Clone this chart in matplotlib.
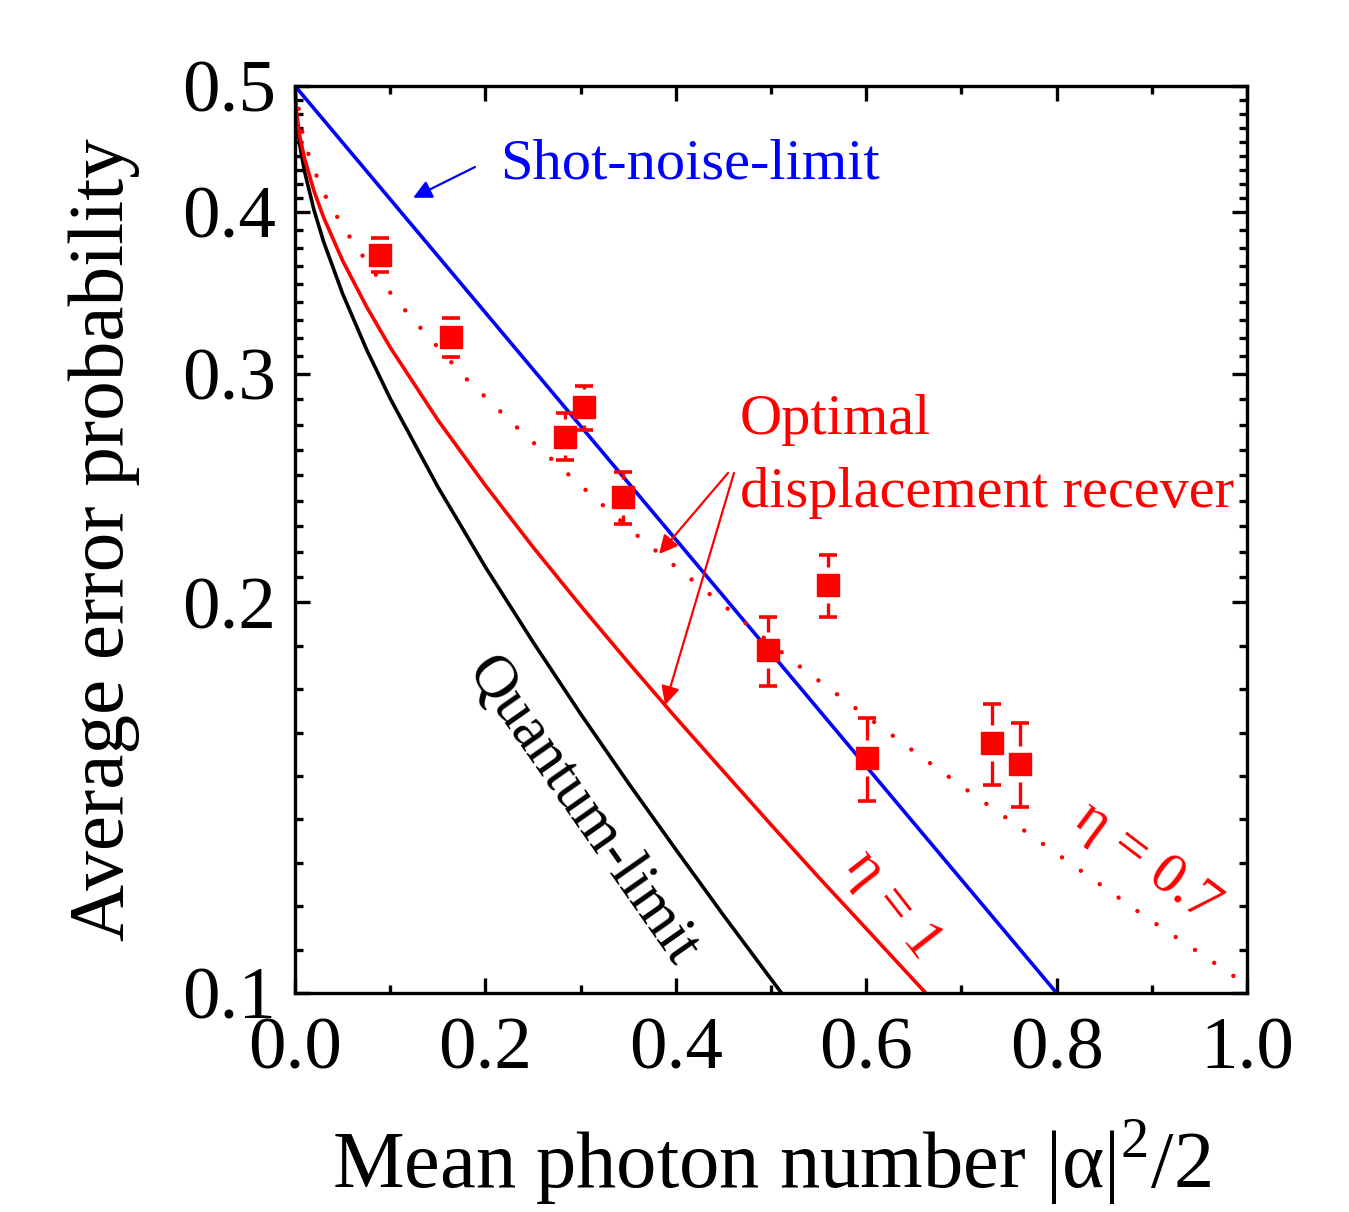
import matplotlib
matplotlib.use('Agg')
import matplotlib.pyplot as plt
from matplotlib.ticker import FixedLocator, MultipleLocator, FormatStrFormatter, NullFormatter

plt.rcParams['font.family'] = ['Liberation Serif', 'DejaVu Serif']
plt.rcParams['mathtext.fontset'] = 'custom'
plt.rcParams['mathtext.rm'] = 'Liberation Serif'

# ---- curves ----
# quantum limit (black)
ql_x = [0, 0.001, 0.005, 0.01, 0.02, 0.03, 0.05, 0.075, 0.1, 0.15, 0.2, 0.25,
        0.3, 0.35, 0.4, 0.45, 0.5, 0.52]
ql_y = [0.5, 0.4776, 0.4501, 0.4296, 0.4010, 0.3793, 0.3458, 0.3134, 0.2871,
        0.2455, 0.2129, 0.1864, 0.1641, 0.1452, 0.1290, 0.1148, 0.1025, 0.0980]

# optimal displacement receiver, eta = 1 (red solid)
od1_x = [0, 0.001, 0.005, 0.01, 0.02, 0.03, 0.05, 0.075, 0.1, 0.15, 0.2, 0.25,
         0.3, 0.35, 0.4, 0.45, 0.5, 0.55, 0.6, 0.65, 0.7]
od1_y = [0.5, 0.4808, 0.4572, 0.4396, 0.4148, 0.3960, 0.3667, 0.3381, 0.3144,
         0.2764, 0.2461, 0.2206, 0.1988, 0.1798, 0.1630, 0.1482, 0.1348, 0.1228,
         0.1121, 0.1023, 0.0934]

# optimal displacement receiver, eta = 0.7 (red dotted)
od07_x = [0, 0.0095, 0.0179, 0.0252, 0.0357, 0.0473, 0.0599, 0.0893, 0.1229,
          0.1786, 0.2395, 0.3015, 0.3624, 0.5252, 0.5872, 0.6481, 0.7101,
          0.7710, 0.8330, 0.8939, 0.9548, 1.0]
od07_y = [0.5, 0.452, 0.436, 0.421, 0.406, 0.393, 0.380, 0.354, 0.331,
          0.298, 0.270, 0.2455, 0.2242, 0.1796, 0.1661, 0.1539, 0.1426,
          0.1326, 0.1231, 0.1144, 0.1068, 0.1014]

# shot-noise limit (blue)
snl_x = [0, 0.2, 0.4, 0.6, 0.8]
snl_y = [0.5, 0.3344, 0.2236, 0.1495, 0.1]

# experiment
exp_x = [0.0893, 0.1639, 0.2836, 0.3036, 0.3445, 0.4968, 0.5599, 0.6008, 0.7321, 0.7616]
exp_y = [0.3704, 0.3203, 0.2683, 0.2829, 0.2411, 0.1838, 0.2063, 0.1517, 0.1558, 0.1501]
exp_hi = [0.3818, 0.3313, 0.2799, 0.2936, 0.2521, 0.1949, 0.2176, 0.1629, 0.1670, 0.1615]
exp_lo = [0.3594, 0.3092, 0.2575, 0.2716, 0.2298, 0.1724, 0.1949, 0.1406, 0.1446, 0.1391]

y_major = [0.1, 0.2, 0.3, 0.4, 0.5]

RED = '#ff0000'
BLUE = '#0000ff'

fig = plt.figure(figsize=(13.49, 12.12), dpi=100)
ax = fig.add_axes([0.2187, 0.1807, 0.7057, 0.7484])

ax.plot(ql_x, ql_y, color='black', lw=2.6)
ax.plot(od1_x, od1_y, color=RED, lw=2.6)
ax.plot(snl_x, snl_y, color=BLUE, lw=2.6)
ax.plot(od07_x, od07_y, color=RED, lw=3.2, linestyle=(0, (0.01, 5.2)),
        dash_capstyle='round')

# error bars with a small gap around the symbol
gap = 1.032
for x, y, lo, hi in zip(exp_x, exp_y, exp_lo, exp_hi):
    if hi > y * gap:
        ax.vlines(x, y * gap, hi, color=RED, lw=2.4)
    if lo < y / gap:
        ax.vlines(x, lo, y / gap, color=RED, lw=2.4)
    ax.plot([x, x], [lo, hi], ls='none', marker='_', ms=13, mew=2.6, color=RED)
ax.plot(exp_x, exp_y, ls='none', marker='s', ms=15.5, color=RED, mec=RED)

ax.set_yscale('log')
ax.set_xlim(0, 1.0)
ax.set_ylim(0.1, 0.5)

ax.xaxis.set_major_locator(MultipleLocator(0.2))
ax.xaxis.set_minor_locator(MultipleLocator(0.1))
ax.xaxis.set_major_formatter(FormatStrFormatter('%.1f'))

minor = []
for a, b in zip(y_major[:-1], y_major[1:]):
    minor += [a * (b / a) ** (k / 9) for k in range(1, 9)]
ax.yaxis.set_major_locator(FixedLocator(y_major))
ax.yaxis.set_minor_locator(FixedLocator(minor))
ax.yaxis.set_major_formatter(FormatStrFormatter('%.1f'))
ax.yaxis.set_minor_formatter(NullFormatter())

ax.tick_params(which='both', direction='in', top=True, right=True, width=2.4,
               labelsize=54)
ax.tick_params(which='major', length=11)
ax.tick_params(which='minor', length=6)
ax.tick_params(axis='x', pad=17)
ax.tick_params(axis='y', pad=14)
for s in ax.spines.values():
    s.set_linewidth(2.4)

ax.set_xlabel(r'Mean photon number |α|$^{2}$/2', fontsize=58, labelpad=24)
ax.set_ylabel('Average error probability', fontsize=57, labelpad=30)

# annotations
ax.text(0.215, 0.4346, 'Shot-noise-limit', color=BLUE, fontsize=42,
        ha='left', va='center')
ax.annotate('', xy=(0.124, 0.410), xytext=(0.189, 0.433),
            arrowprops=dict(arrowstyle='-|>', color=BLUE, lw=1.6,
                            mutation_scale=28, shrinkA=0, shrinkB=0))

ax.text(0.467, 0.2765, 'Optimal', color=RED, fontsize=42, ha='left', va='center')
ax.text(0.467, 0.2428, 'displacement recever', color=RED, fontsize=42,
        ha='left', va='center')
ax.annotate('', xy=(0.3824, 0.2179), xytext=(0.4548, 0.2516),
            arrowprops=dict(arrowstyle='-|>', color=RED, lw=1.6,
                            mutation_scale=28, shrinkA=0, shrinkB=0))
ax.annotate('', xy=(0.3887, 0.1667), xytext=(0.4611, 0.2516),
            arrowprops=dict(arrowstyle='-|>', color=RED, lw=1.6,
                            mutation_scale=28, shrinkA=0, shrinkB=0))

ax.text(0.3015, 0.1379, 'Quantum-limit', color='black', fontsize=44,
        rotation=-55, ha='center', va='center', rotation_mode='anchor')
ax.text(0.628, 0.1169, 'η = 1', color=RED, fontsize=42,
        rotation=-52, ha='center', va='center', rotation_mode='anchor')
ax.text(0.895, 0.1262, 'η = 0.7', color=RED, fontsize=42,
        rotation=-37, ha='center', va='center', rotation_mode='anchor')

fig.savefig('out.png', dpi=100)
